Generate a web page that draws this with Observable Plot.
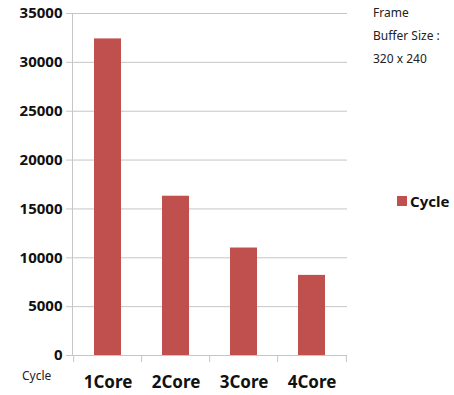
<!DOCTYPE html>
<html>
<head>
<meta charset="utf-8">
<script src="https://cdn.jsdelivr.net/npm/d3@7"></script>
<script src="https://cdn.jsdelivr.net/npm/@observablehq/plot@0.6"></script>
<style>
  html, body { margin: 0; padding: 0; background: #fff; }
  #wrap { position: relative; width: 454px; height: 395px; font-family: "Noto Sans", sans-serif; }
  #wrap svg { position: absolute; left: 0; top: 0; }
  .note { position: absolute; font-size: 12px; color: #222; line-height: 1; }
  .legend { position: absolute; left: 397px; top: 191px; display: flex; align-items: center; font-size: 15px; font-weight: bold; color: #111; }
  .legend .sw { width: 10px; height: 10px; background: #C0504D; margin-right: 3px; }
</style>
</head>
<body>
<div id="wrap"></div>
<script>
const categories = ["1Core", "2Core", "3Core", "4Core"];
const cycles = [32400, 16300, 11000, 8200];
const yTicks = [0, 5000, 10000, 15000, 20000, 25000, 30000, 35000];
const seriesName = "Cycle";
const noteLines = ["Frame", "Buffer Size :", "320 x 240"];

const data = categories.map((c, i) => ({core: c, cycle: cycles[i]}));

const W = 454, H = 395, mL = 72, mR = 107, mT = 13, mB = 40;
const step = (W - mL - mR) / categories.length;
const grid = "#c6c6c6";

const chart = Plot.plot({
  width: W, height: H,
  marginLeft: mL, marginRight: mR, marginTop: mT, marginBottom: mB,
  style: {fontFamily: "Noto Sans, sans-serif", background: "transparent"},
  x: {domain: categories, paddingInner: 0.6, paddingOuter: 0.3, label: null},
  y: {domain: [0, 35000], label: null},
  marks: [
    Plot.gridY(yTicks, {stroke: grid, strokeOpacity: 1}),
    Plot.axisY(yTicks, {tickSize: 6, stroke: grid, tickPadding: 4, fontSize: 15, fontWeight: "bold", fill: "#111", tickFormat: d => String(d), label: null}),
    Plot.frame({anchor: "left", stroke: grid}),
    Plot.barY(data, {x: "core", y: "cycle", fill: "#C0504D"}),
    Plot.ruleX(categories, {x: d => d, dx: -step / 2, y1: 0, y2: 0, insetBottom: -7, stroke: grid}),
    Plot.ruleX([categories[categories.length - 1]], {x: d => d, dx: step / 2, y1: 0, y2: 0, insetBottom: -7, stroke: grid}),
    Plot.ruleY([0], {stroke: grid}),
    Plot.axisX({tickSize: 0, tickPadding: 20, fontSize: 17, fontWeight: "bold", fill: "#111", label: null})
  ]
});

const wrap = document.getElementById("wrap");
wrap.appendChild(chart);

const cyc = document.createElement("div");
cyc.className = "note";
cyc.style.left = "22px"; cyc.style.top = "370px";
cyc.textContent = seriesName;
wrap.appendChild(cyc);

noteLines.forEach((t, i) => {
  const d = document.createElement("div");
  d.className = "note";
  d.style.left = "373px";
  d.style.top = (7 + i * 23) + "px";
  d.textContent = t;
  wrap.appendChild(d);
});

const lg = document.createElement("div");
lg.className = "legend";
lg.innerHTML = '<span class="sw"></span><span></span>';
lg.lastChild.textContent = seriesName;
wrap.appendChild(lg);
</script>
</body>
</html>
